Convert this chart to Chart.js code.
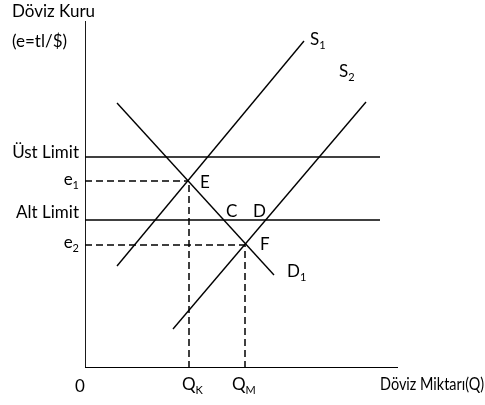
<!DOCTYPE html>
<html lang="tr">
<head>
    <meta charset="UTF-8">
    <title>Döviz Kuru - Döviz Miktarı</title>
    <script src="https://cdn.jsdelivr.net/npm/chart.js"></script>
    <style>
        body {
            margin: 0;
            background: #fff;
        }
        .chart-wrapper {
            width: 485px;
            height: 405px;
        }
    </style>
</head>
<body>
    <div class="chart-wrapper">
        <canvas id="fxChart" width="485" height="405"></canvas>
    </div>

    <script>
        // values (x = döviz miktarı, y = döviz kuru)
        const axisEnd = { x: 313, y: 347 };
        const supply1 = [{ x: 32, y: 102 }, { x: 219, y: 327 }];
        const supply2 = [{ x: 88, y: 39 }, { x: 281, y: 266 }];
        const demand1 = [{ x: 32, y: 265 }, { x: 189, y: 93 }];
        const upperLimit = 211;
        const lowerLimit = 148;
        const limitEnd = 295;
        const pointE = { x: 104, y: 187 };
        const pointF = { x: 160, y: 123 };

        const font = 'Lato, "Open Sans", sans-serif';

        // [main text, subscript, x, y, align, max width]
        const textLabels = [
            ['Döviz Kuru', '', -73, 356, 'left'],
            ['(e=tl/$)', '', -73, 326, 'left'],
            ['Üst Limit', '', -6, upperLimit + 4, 'right'],
            ['e', '1', -6, pointE.y + 1, 'right'],
            ['Alt Limit', '', -6, lowerLimit + 7, 'right'],
            ['e', '2', -6, pointF.y + 2, 'right'],
            ['E', '', pointE.x + 11, pointE.y - 2, 'left'],
            ['C', '', 141, lowerLimit + 8, 'left'],
            ['D', '', 168, lowerLimit + 8, 'left'],
            ['F', '', pointF.x + 15, pointF.y, 'left'],
            ['D', '1', 202, 96, 'left'],
            ['S', '1', 225, 328, 'left'],
            ['S', '2', 254, 296, 'left'],
            ['0', '', -5, -19, 'center'],
            ['Q', 'K', pointE.x - 7, -17, 'left'],
            ['Q', 'M', pointF.x - 13, -17, 'left'],
            ['Döviz Miktarı(Q)', '', 295, -17, 'left', 104]
        ];

        const textPlugin = {
            id: 'textPlugin',
            afterDatasetsDraw(chart) {
                const ctx = chart.ctx;
                const xs = chart.scales.x;
                const ys = chart.scales.y;
                ctx.save();
                ctx.fillStyle = '#000';
                ctx.textBaseline = 'middle';
                textLabels.forEach(([main, sub, x, y, align, maxW]) => {
                    ctx.font = '17px ' + font;
                    let w1 = ctx.measureText(main).width;
                    if (maxW && w1 > maxW) w1 = maxW;
                    ctx.font = '11px ' + font;
                    const w2 = sub ? ctx.measureText(sub).width : 0;
                    const total = w1 + w2;
                    let left = xs.getPixelForValue(x);
                    if (align === 'right') left -= total;
                    if (align === 'center') left -= total / 2;
                    const py = ys.getPixelForValue(y);
                    ctx.textAlign = 'left';
                    ctx.font = '17px ' + font;
                    if (maxW) ctx.fillText(main, left, py, maxW);
                    else ctx.fillText(main, left, py);
                    if (sub) {
                        ctx.font = '11px ' + font;
                        ctx.fillText(sub, left + w1, py + 5);
                    }
                });
                ctx.restore();
            }
        };

        function solid(data, width) {
            return {
                data: data,
                showLine: true,
                borderColor: '#000',
                borderWidth: width || 1.4,
                pointRadius: 0,
                fill: false
            };
        }

        function dashed(data) {
            return {
                data: data,
                showLine: true,
                borderColor: '#000',
                borderWidth: 1.5,
                borderDash: [7, 4],
                pointRadius: 0,
                fill: false
            };
        }

        new Chart(document.getElementById('fxChart'), {
            type: 'scatter',
            data: {
                datasets: [
                    solid([{ x: 0, y: 0 }, { x: 0, y: axisEnd.y }], 1.8),
                    solid([{ x: 0, y: 0 }, { x: axisEnd.x, y: 0 }], 1.8),
                    solid([{ x: 0, y: upperLimit }, { x: limitEnd, y: upperLimit }], 1.6),
                    solid([{ x: 0, y: lowerLimit }, { x: limitEnd, y: lowerLimit }], 1.6),
                    dashed([{ x: 0, y: pointE.y }, pointE]),
                    dashed([{ x: pointE.x, y: 0 }, pointE]),
                    dashed([{ x: 0, y: pointF.y }, pointF]),
                    dashed([{ x: pointF.x, y: 0 }, pointF]),
                    solid(supply1),
                    solid(supply2),
                    solid(demand1)
                ]
            },
            options: {
                responsive: false,
                devicePixelRatio: 1,
                animation: false,
                layout: {
                    padding: { left: 85, right: 0, top: 0, bottom: 37 }
                },
                scales: {
                    x: { type: 'linear', display: false, min: 0, max: 400 },
                    y: { type: 'linear', display: false, min: 0, max: 368 }
                },
                plugins: {
                    legend: { display: false },
                    tooltip: { enabled: false }
                }
            },
            plugins: [textPlugin]
        });
    </script>
</body>
</html>
